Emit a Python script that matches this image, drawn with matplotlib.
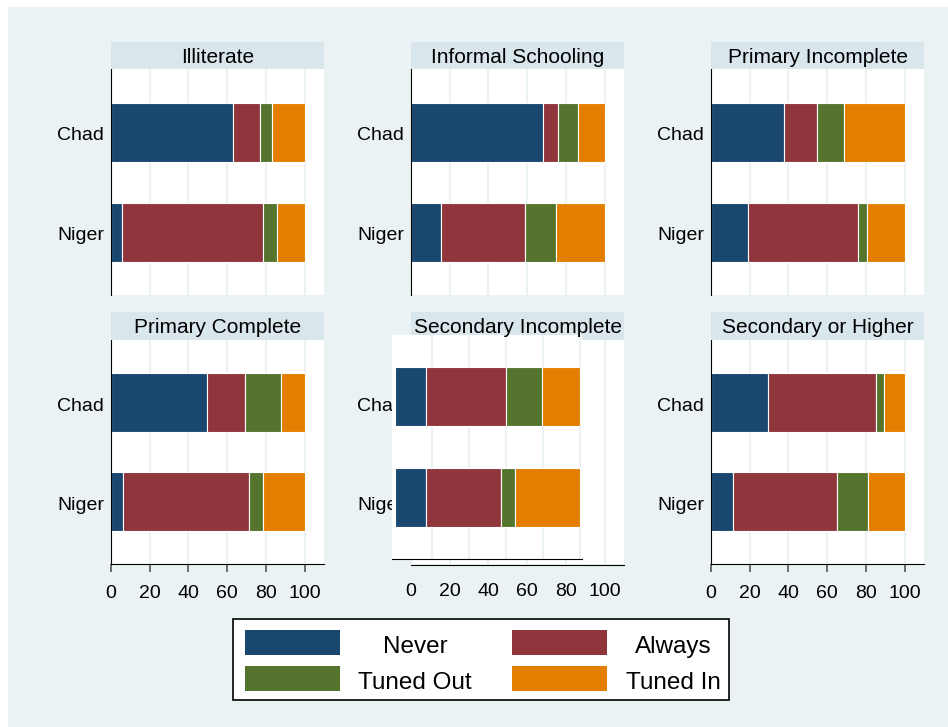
import matplotlib
matplotlib.use("Agg")
import matplotlib.pyplot as plt
from matplotlib.patches import Rectangle

plt.rcParams['font.family'] = ['Liberation Sans', 'DejaVu Sans']

# listening habits by education level, percent of respondents (Chad, Niger)
panels = ["Illiterate", "Informal Schooling", "Primary Incomplete",
          "Primary Complete", "Secondary Incomplete", "Secondary or Higher"]
countries = ["Chad", "Niger"]

never = [(62.8, 5.5), (68.4, 15.4), (37.8, 19.2),
         (49.4, 6.3), (16.7, 16.7), (29.5, 11.4)]
always = [(14.3, 72.8), (7.3, 43.7), (17.1, 56.5),
          (19.6, 64.8), (43.3, 40.6), (55.9, 53.9)]
tuned_out = [(6.2, 7.6), (10.4, 15.7), (13.7, 4.9),
             (18.6, 7.4), (19.4, 7.5), (3.8, 15.8)]
tuned_in = [(16.7, 14.1), (13.9, 25.2), (31.4, 19.4),
            (12.4, 21.5), (20.6, 35.2), (10.8, 18.9)]

series_names = ["Never", "Always", "Tuned Out", "Tuned In"]
series_vals = [never, always, tuned_out, tuned_in]
colors = ["#1A476F", "#90353B", "#55752F", "#E37E00"]
xticks = [0, 20, 40, 60, 80, 100]

BG = "#EAF2F3"
STRIP = "#D9E6EB"
W, H = 948, 727


def px_box(x0, y0, x1, y1):
    return [x0 / W, 1 - y1 / H, (x1 - x0) / W, (y1 - y0) / H]


def draw_bars(ax, i):
    left = [0.0, 0.0]
    for vals, c in zip(series_vals, colors):
        v = vals[i]
        ax.barh([0, 1], v, left=left, height=0.59, color=c,
                edgecolor="white", linewidth=0.8, zorder=2)
        left = [left[0] + v[0], left[1] + v[1]]


def style_axes(ax, bottom_row):
    ax.set_facecolor("white")
    ax.set_ylim(1.63, -0.63)
    ax.set_xlim(0, 110)
    ax.set_xticks(xticks)
    ax.set_yticks([0.02, 1.02])
    ax.set_yticklabels(countries, fontsize=14, va="center_baseline")
    ax.tick_params(axis="y", length=0, pad=5)
    ax.grid(axis="x", color=BG, linewidth=1.5, zorder=0)
    ax.set_axisbelow(True)
    ax.spines["top"].set_visible(False)
    ax.spines["right"].set_visible(False)
    ax.spines["left"].set_color("black")
    if bottom_row:
        ax.tick_params(axis="x", length=6, width=1.2, color="#555555",
                       labelsize=14, pad=9)
        ax.spines["bottom"].set_color("black")
    else:
        ax.tick_params(axis="x", length=0, labelbottom=False)
        ax.spines["bottom"].set_visible(False)


fig = plt.figure(figsize=(9.48, 7.27), dpi=100, facecolor="white")
fig.add_artist(Rectangle((8 / W, 0), 1 - 8 / W, 1 - 7 / H,
                         transform=fig.transFigure, facecolor=BG,
                         edgecolor="none", zorder=-5))

col_x = [111, 411, 711]
rows = [(42, 69, 295), (312, 340, 564)]

for i, name in enumerate(panels):
    r, c = divmod(i, 3)
    x0 = col_x[c]
    x1 = x0 + 213
    s_top, p_top, p_bot = rows[r]

    ax = fig.add_axes(px_box(x0, p_top, x1, p_bot))
    style_axes(ax, r == 1)

    if name == "Secondary Incomplete":
        # frame only: labels and ticks, no left axis line or tick marks
        ax.spines["left"].set_visible(False)
        ax.tick_params(axis="x", length=0, pad=13)
        ax.spines["bottom"].set_position(("outward", 1))
        # plot region itself sits shifted up and left over the frame
        inner = fig.add_axes(px_box(392, 335, 582, 559), zorder=2)
        inner.set_facecolor("white")
        inner.set_ylim(1.61, -0.61)
        inner.set_xlim(-1.5, 101)
        inner.set_xticks(xticks[1:])
        inner.tick_params(length=0, labelleft=False, labelbottom=False)
        inner.grid(axis="x", color=BG, linewidth=1.5, zorder=0)
        inner.set_axisbelow(True)
        for side in ["top", "right", "left"]:
            inner.spines[side].set_visible(False)
        inner.spines["bottom"].set_color("black")
        draw_bars(inner, i)
    else:
        draw_bars(ax, i)

    fig.add_artist(Rectangle((x0 / W, 1 - p_top / H), 213 / W,
                             (p_top - s_top) / H, transform=fig.transFigure,
                             facecolor=STRIP, edgecolor="none", zorder=1))
    fig.text((x0 + x1) / 2 / W, 1 - (s_top + p_top) / 2 / H, name,
             ha="center", va="center_baseline", fontsize=15, zorder=3)

# legend box
fig.add_artist(Rectangle((233 / W, 1 - 700 / H), 496 / W, 81 / H,
                         transform=fig.transFigure, facecolor="white",
                         edgecolor="black", linewidth=1.2, zorder=1))
key_x = [245, 512]
text_x = [415, 673]
row_y = [(630, 655), (666, 691)]
for k, (lab, c) in enumerate(zip(series_names, colors)):
    rr, cc = divmod(k, 2)
    y0, y1 = row_y[rr]
    fig.add_artist(Rectangle((key_x[cc] / W, 1 - y1 / H), 95 / W,
                             (y1 - y0) / H, transform=fig.transFigure,
                             facecolor=c, edgecolor="none", zorder=2))
    fig.text(text_x[cc] / W, 1 - ((y0 + y1) / 2 + 2) / H, lab,
             ha="center", va="center_baseline", fontsize=17.5, zorder=3)

fig.savefig("out.png", dpi=100, facecolor=fig.get_facecolor())
